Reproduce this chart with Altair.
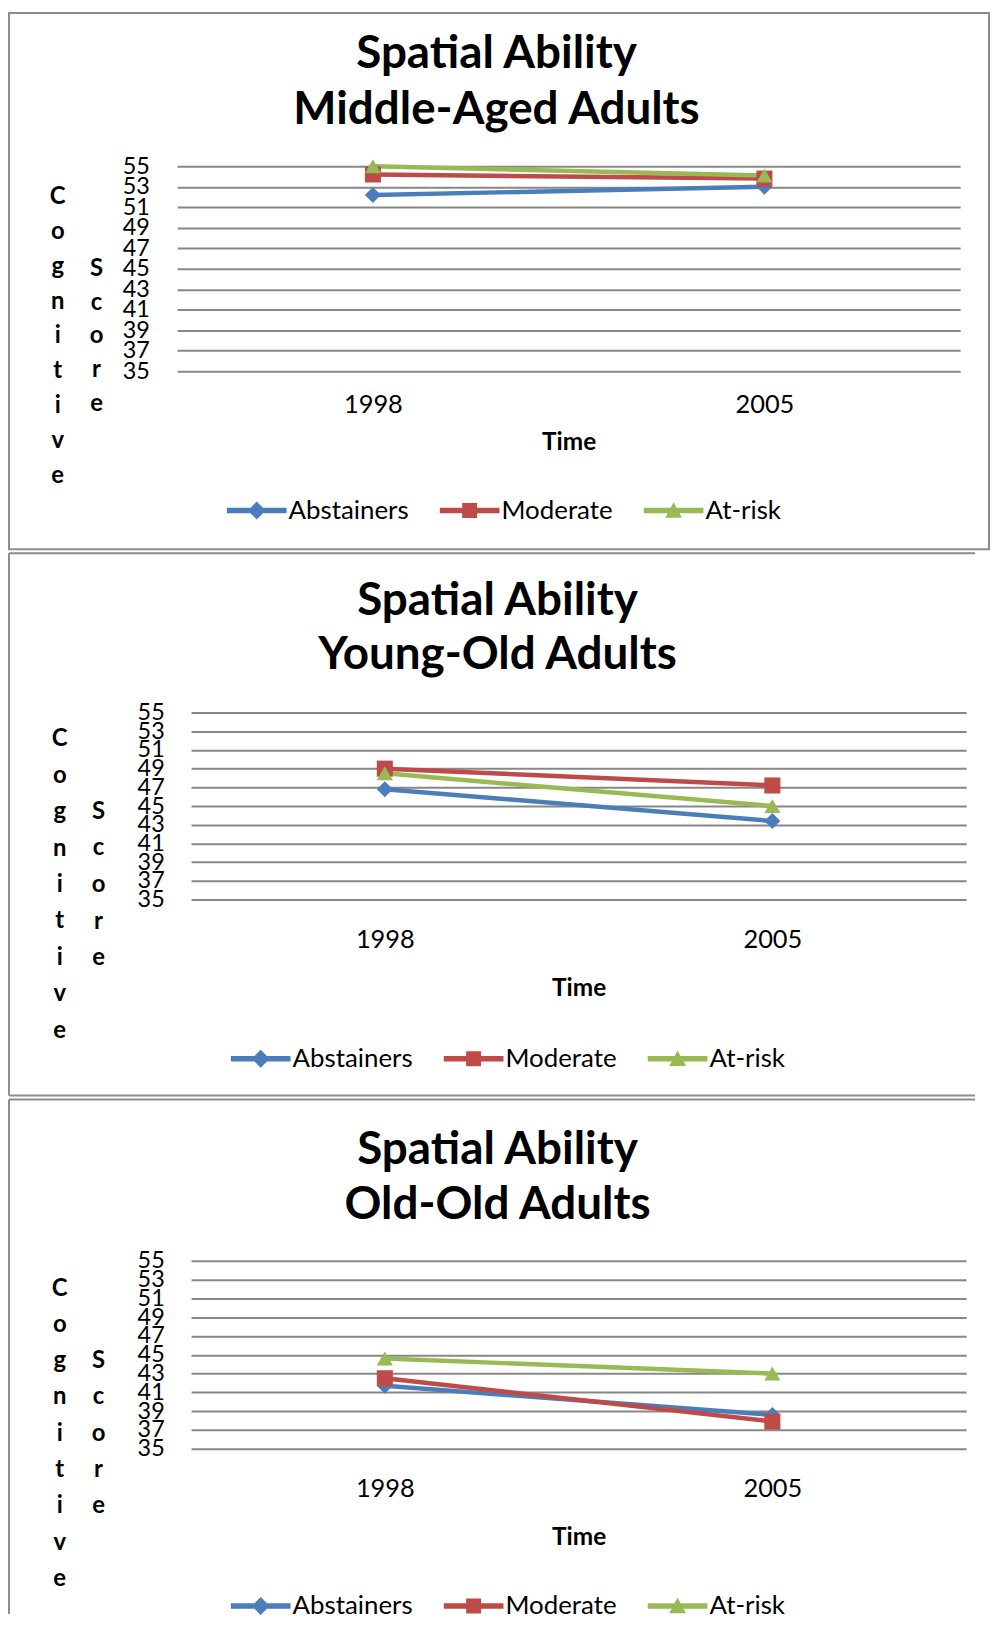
import altair as alt
import pandas as pd

# ---------------- data ----------------
years = ["1998", "2005"]
groups = ["Abstainers", "Moderate", "At-risk"]
colors = ["#4A7EBB", "#BE4B48", "#98B954"]
marker_shapes = ["diamond", "square", "triangle-up"]

middle_abstainers = [52.2, 53.0]
middle_moderate = [54.2, 53.8]
middle_atrisk = [55.0, 54.1]

young_abstainers = [46.8, 43.4]
young_moderate = [49.0, 47.2]
young_atrisk = [48.5, 45.0]

old_abstainers = [41.7, 38.6]
old_moderate = [42.5, 37.9]
old_atrisk = [44.6, 43.0]

y_ticks = list(range(35, 56, 2))
title_line1 = "Spatial Ability"
subtitles = ["Middle-Aged Adults", "Young-Old Adults", "Old-Old Adults"]
y_title_col1 = list("Cognitive")
y_title_col2 = list("Score")
x_title = "Time"

FONT = "Lato"
GRID = "#878787"
BORDER = "#8c8c8c"

# legend symbol paths (line + marker)
LINE = "M-1,-0.09L1,-0.09L1,0.09L-1,0.09Z"
legend_paths = [
    LINE + " M-0.3,0L0,-0.3L0.3,0L0,0.3Z",
    LINE + " M-0.25,-0.25L0.25,-0.25L0.25,0.25L-0.25,0.25Z",
    LINE + " M-0.28,0.24L0,-0.28L0.28,0.24Z",
]


def make_df(a, m, r):
    rows = []
    for g, vals in zip(groups, [a, m, r]):
        for yr, v in zip(years, vals):
            rows.append({"Year": yr, "Score": v, "Group": g})
    return pd.DataFrame(rows)


ONE = alt.Data(values=[{"k": 1}])


def text_layer(txt, x, y, size, lh=None):
    kw = dict(text=txt, font=FONT, fontSize=size, fontWeight="bold",
              align="center", baseline="middle", color="black")
    if lh is not None:
        kw["lineHeight"] = lh
    return alt.Chart(ONE).mark_text(**kw).encode(x=alt.value(x), y=alt.value(y))


def rule_layer(xa, xb, ya, yb):
    return alt.Chart(ONE).mark_rule(stroke=BORDER, strokeWidth=2).encode(
        x=alt.value(xa), x2=alt.value(xb), y=alt.value(ya), y2=alt.value(yb)
    )


def panel(df, subtitle, w, h, lay):
    x_enc = alt.X(
        "Year:O",
        scale=alt.Scale(type="point", padding=0.5),
        axis=alt.Axis(
            title=x_title, titleFont=FONT, titleFontSize=24.5, titleFontWeight="bold",
            titleColor="black", titleY=lay["time_y"], titleBaseline="middle",
            labelAngle=0, labelFont=FONT, labelFontSize=25.5, labelColor="black",
            labelPadding=lay["xlab_pad"], labelBaseline="middle",
            domain=False, ticks=False, grid=False,
        ),
    )
    y_enc = alt.Y(
        "Score:Q",
        scale=alt.Scale(domain=[35, 55], nice=False, zero=False),
        axis=alt.Axis(
            title=None, values=y_ticks, tickCount=len(y_ticks), domain=False,
            ticks=False, grid=True, gridColor=GRID, gridWidth=2, labelFont=FONT,
            labelFontSize=23.5, labelColor="black", labelPadding=lay["ylab_pad"],
            labelOverlap=False, labelFlush=False, labelBound=False,
        ),
    )
    legend = alt.Legend(
        orient="none", legendX=lay["leg_x"], legendY=lay["leg_y"],
        direction="horizontal", title=None, labelFont=FONT, labelFontSize=26,
        labelColor="black", labelOffset=2, columnPadding=31, symbolSize=3600,
        symbolOpacity=1, symbolStrokeWidth=0, padding=0,
    )

    base = alt.Chart(df)
    layers = []
    bx, bx2, by, by2 = lay["bx"], lay["bx2"], lay["by"], lay["by2"]
    if lay["box"] == "full":
        layers.append(
            alt.Chart(ONE).mark_rect(filled=False, stroke=BORDER, strokeWidth=2).encode(
                x=alt.value(bx), x2=alt.value(bx2), y=alt.value(by), y2=alt.value(by2),
            )
        )
    else:
        layers.append(rule_layer(bx, bx2, by, by))
        layers.append(rule_layer(bx, bx, by, by2))
        if lay["box"] == "tlb":
            layers.append(rule_layer(bx, bx2, by2, by2))
    layers.append(text_layer(title_line1, lay["t_x"], lay["t_y1"], 46))
    layers.append(text_layer(subtitle, lay["t_x"], lay["t_y2"], 46))
    layers.append(text_layer(y_title_col1, lay["c1_x"], lay["c1_y"], 24, lay["c1_lh"]))
    layers.append(text_layer(y_title_col2, lay["c2_x"], lay["c2_y"], 24, lay["c2_lh"]))
    # legend-carrying invisible layer
    layers.append(
        base.mark_point(filled=True, opacity=0).encode(
            x=x_enc, y=y_enc,
            color=alt.Color("Group:N", scale=alt.Scale(domain=groups, range=colors),
                            legend=legend, sort=groups),
            shape=alt.Shape("Group:N", scale=alt.Scale(domain=groups, range=legend_paths),
                            legend=legend, sort=groups),
        )
    )
    for g, c in zip(groups, colors):
        layers.append(
            base.transform_filter(alt.datum.Group == g)
            .mark_line(strokeWidth=4.5, color=c)
            .encode(x="Year:O", y="Score:Q")
        )
    for g, c, s in zip(groups, colors, marker_shapes):
        layers.append(
            base.transform_filter(alt.datum.Group == g)
            .mark_point(shape=s, filled=True, color=c, size=260, opacity=1)
            .encode(x="Year:O", y="Score:Q")
        )
    return alt.layer(*layers).properties(width=w, height=h)


lay1 = dict(box="full", bx=-169, bx2=816, by=-154, by2=385,
            t_x=321, t_y1=-113, t_y2=-57,
            c1_x=-120, c1_y=31, c1_lh=35, c2_x=-81, c2_y=103, c2_lh=34,
            leg_x=50, leg_y=316, time_y=72, xlab_pad=33, ylab_pad=28)
lay2 = dict(box="tlb", bx=-183, bx2=788, by=-160, by2=385,
            t_x=308, t_y1=-112, t_y2=-58,
            c1_x=-132, c1_y=27, c1_lh=36.6, c2_x=-93, c2_y=100, c2_lh=36.7,
            leg_x=40, leg_y=318, time_y=89, xlab_pad=40, ylab_pad=27)
lay3 = dict(box="tl", bx=-183, bx2=788, by=-162, by2=355,
            t_x=308, t_y1=-111, t_y2=-56,
            c1_x=-132, c1_y=28, c1_lh=36.5, c2_x=-93, c2_y=101, c2_lh=36.5,
            leg_x=40, leg_y=317, time_y=89, xlab_pad=40, ylab_pad=27)

p1 = panel(make_df(middle_abstainers, middle_moderate, middle_atrisk), subtitles[0], 787, 206, lay1)
p2 = panel(make_df(young_abstainers, young_moderate, young_atrisk), subtitles[1], 779, 188, lay2)
p3 = panel(make_df(old_abstainers, old_moderate, old_atrisk), subtitles[2], 779, 189, lay3)

chart = (
    alt.concat(p1, p2, p3, columns=1, spacing=2, align="each", center=True)
    .resolve_scale(color="independent", shape="independent", x="independent", y="independent")
    .resolve_legend(color="independent", shape="independent")
    .properties(padding=0, background="white")
    .configure_view(stroke=None)
)

chart.save("out.html", embed_options={"renderer": "svg", "actions": False})
